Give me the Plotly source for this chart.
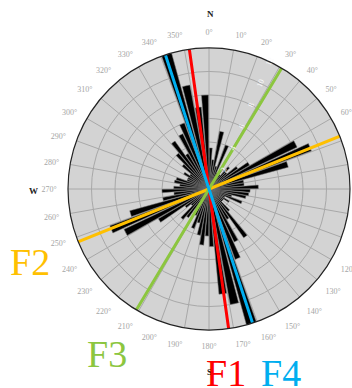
import plotly.graph_objects as go

# --- data -------------------------------------------------------------
BIN_WIDTH = 5
bin_centers = [i * 5 + 2.5 for i in range(72)]
counts = [
    3.5, 2.5, 5.0, 2.0, 4.0, 1.5, 2.0, 1.5, 2.5, 2.0, 3.0, 4.0,   # 0-60
    8.3, 9.3, 7.0, 3.0, 3.0, 4.2, 3.5, 3.4, 3.2, 2.0, 3.0, 1.5,   # 60-120
    2.0, 1.5, 1.5, 2.5, 5.1, 3.0, 5.0, 6.4, 12.0, 10.0, 9.0, 4.9, # 120-180
    4.0, 4.8, 4.0, 3.0, 3.6, 2.5, 2.0, 3.0, 3.4, 2.0, 2.5, 5.0,   # 180-240
    8.0, 9.0, 7.0, 4.0, 3.0, 4.0, 3.0, 2.5, 3.0, 2.9, 2.0, 2.0,   # 240-300
    2.5, 2.0, 3.0, 4.0, 5.0, 3.5, 5.2, 6.0, 12.0, 9.0, 7.0, 8.0,  # 300-360
]

angle_ticks = list(range(0, 360, 10))
angle_labels = [f"{a}°" for a in angle_ticks]
radial_ticks = [2, 4, 6, 8, 10, 12]

faults = ["F1", "F2", "F3", "F4"]
fault_azimuth = [352, 68, 31, 342]
fault_len_fwd = [13.5, 14.5, 14.0, 14.3]
fault_len_back = [14.4, 13.2, 14.2, 14.0]
fault_colors = ["#ff0000", "#ffc000", "#8cc63f", "#00aeef"]

# --- figure -----------------------------------------------------------
fig = go.Figure()

fig.add_trace(go.Barpolar(
    r=counts, theta=bin_centers, width=[BIN_WIDTH - 0.8] * len(counts),
    marker=dict(color="#000000", line=dict(color="#7a7a7a", width=0.5)),
    showlegend=False, hoverinfo="skip",
))

for name, az, la, lb, col in zip(faults, fault_azimuth, fault_len_fwd,
                                 fault_len_back, fault_colors):
    fig.add_trace(go.Scatterpolar(
        r=[la, 0, lb], theta=[az, az, (az + 180) % 360], mode="lines",
        line=dict(color=col, width=3), cliponaxis=False,
        showlegend=False, hoverinfo="skip", name=name,
    ))

W, H = 352, 388
fig.update_layout(
    width=W, height=H,
    margin=dict(l=0, r=0, t=0, b=0),
    paper_bgcolor="white",
    showlegend=False,
    polar=dict(
        domain=dict(x=[68 / W, 350 / W], y=[1 - 330 / H, 1 - 48 / H]),
        bgcolor="#d3d3d3",
        bargap=0,
        angularaxis=dict(
            rotation=90, direction="clockwise",
            tickmode="array", tickvals=angle_ticks, ticktext=angle_labels,
            tickfont=dict(family="Liberation Serif", size=8, color="#a5a5a5"),
            ticks="outside", ticklen=9, tickcolor="rgba(0,0,0,0)",
            showline=True, linecolor="#222222", linewidth=1.2,
            showgrid=True, gridcolor="#a8a8a8", gridwidth=0.8,
        ),
        radialaxis=dict(
            range=[0, 12], tickmode="array", tickvals=radial_ticks,
            ticktext=[str(v) for v in radial_ticks],
            angle=67, tickangle=0, showline=False, ticks="",
            tickfont=dict(family="Liberation Serif", size=8, color="#fafafa"),
            showgrid=True, gridcolor="#a8a8a8", gridwidth=0.8,
        ),
    ),
)

def ann(text, px, py, size, color, bold=False):
    fig.add_annotation(
        x=px / W, y=1 - py / H, xref="paper", yref="paper",
        text=f"<b>{text}</b>" if bold else text, showarrow=False,
        font=dict(family="Liberation Serif", size=size, color=color),
        xanchor="center", yanchor="middle",
    )

ann("N", 210, 14, 9, "#222222", bold=True)
ann("W", 33, 191, 9, "#222222", bold=True)
ann("S", 209, 372, 9, "#222222", bold=True)

label_pos = {"F1": (226, 373), "F2": (30, 262), "F3": (107, 354), "F4": (281, 373)}
for name, col in zip(faults, fault_colors):
    px, py = label_pos[name]
    ann(name, px, py, 38, col)

fig.write_html(
    "out.html",
    config={"displayModeBar": False},
    post_script="document.body.style.margin='0';document.body.style.overflow='hidden';",
)
